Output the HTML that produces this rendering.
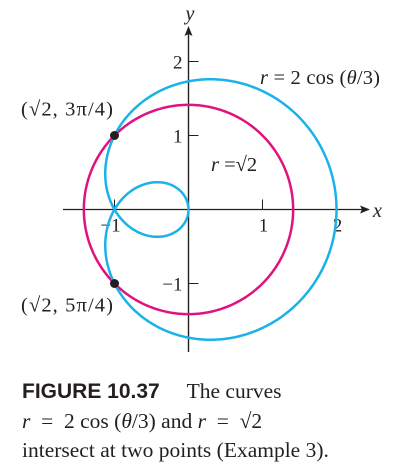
<!DOCTYPE html>
<html><head><meta charset="utf-8"><style>
body{margin:0;background:#fff;width:403px;height:471px;overflow:hidden;position:relative;font-family:"Liberation Serif",serif;}
.cap{position:absolute;left:22px;font-size:21.5px;color:#231f20;white-space:nowrap;line-height:24px;}
.cap b{font-family:"Liberation Sans",sans-serif;font-size:21px;}
</style></head><body>
<svg id="chart" width="403" height="360" style="position:absolute;left:0;top:0" font-family="Liberation Serif, serif"></svg>
<div class="cap" style="top:379px"><b>FIGURE 10.37</b>&nbsp;&nbsp;&nbsp;&nbsp;&nbsp;The curves</div>
<div class="cap" style="top:409px"><i>r</i>&nbsp; =&nbsp; 2 cos (<i>θ</i>/3) and <i>r</i>&nbsp; =&nbsp; √2</div>
<div class="cap" style="top:438px">intersect at two points (Example 3).</div>
<script>
const xTicks=[-1,1,2];
const yTicks=[-1,1,2];
const circleRadius=[Math.SQRT2];
const curveAmp=[2];
const curveDiv=[3];
const pointR=[Math.SQRT2,Math.SQRT2];
const pointTheta=[3*Math.PI/4,5*Math.PI/4];
const pointLabels=["(√2, 3π/4)","(√2, 5π/4)"];

const S=74,OX=188.5,OY=209.5;
const sx=v=>OX+v*S, sy=v=>OY-v*S;
const svg=document.getElementById('chart');
const NS='http://www.w3.org/2000/svg';
function mk(t,a){const e=document.createElementNS(NS,t);for(const k in a)e.setAttribute(k,a[k]);svg.appendChild(e);return e;}
function txt(x,y,s,size,anchor,style){const e=mk('text',{x:x,y:y,'font-size':size,'text-anchor':anchor||'start',fill:'#231f20'});if(style)e.setAttribute('font-style',style);e.textContent=s;return e;}

let e=mk('line',{x1:63,y1:OY,x2:362,y2:OY,stroke:'#231f20','stroke-width':1.2});

e=mk('path',{d:`M370 ${OY} L360 ${OY-4} L362 ${OY} L360 ${OY+4}Z`,fill:'#231f20'});

e=mk('line',{x1:OX,y1:34,x2:OX,y2:352,stroke:'#231f20','stroke-width':1.4});

e=mk('path',{d:`M${OX} 26 L${OX-4} 36 L${OX} 34 L${OX+4} 36Z`,fill:'#231f20'});

e=txt(373,217,'x',20,'start','italic');
e=txt(190,20,'y',20,'middle','italic');

xTicks.forEach(v=>{
  let t=mk('line',{x1:sx(v),y1:OY,x2:sx(v),y2:OY-10,stroke:'#231f20','stroke-width':1});
  
  let l=txt(sx(v)+(v<0?-4:1),OY+22,v<0?'−'+Math.abs(v):String(v),19,'middle');
  
});
yTicks.forEach(v=>{
  let t=mk('line',{x1:OX,y1:sy(v),x2:OX+10,y2:sy(v),stroke:'#231f20','stroke-width':1});
  
  let l=txt(OX-6,sy(v)+7,v<0?'−'+Math.abs(v):String(v),19,'end');
  
});

let d='';
for(let i=0;i<=360;i++){const t=i/360*2*Math.PI;d+=(i?'L':'M')+sx(circleRadius[0]*Math.cos(t)).toFixed(2)+' '+sy(circleRadius[0]*Math.sin(t)).toFixed(2);}
e=mk('path',{d:d,fill:'none',stroke:'#e0127f','stroke-width':2.5});


d='';
const N=1200;
for(let i=0;i<=N;i++){const t=i/N*2*curveDiv[0]*Math.PI;const r=curveAmp[0]*Math.cos(t/curveDiv[0]);d+=(i?'L':'M')+sx(r*Math.cos(t)).toFixed(2)+' '+sy(r*Math.sin(t)).toFixed(2);}
e=mk('path',{d:d,fill:'none',stroke:'#1ab2e8','stroke-width':2.5});


pointR.forEach((r,i)=>{
  const x=sx(r*Math.cos(pointTheta[i])),y=sy(r*Math.sin(pointTheta[i]));
  let c=mk('circle',{cx:x,cy:y,r:4.5,fill:'#231f20'});
  
  let l=txt(21,y+(i==0?-20:+28),pointLabels[i],20.5,'start');
  l.setAttribute('textLength','92');
  
});

e=mk('text',{x:260,y:84,'font-size':20.5,fill:'#231f20',textLength:120});
e.innerHTML='<tspan font-style="italic">r</tspan> = 2 cos (<tspan font-style="italic">θ</tspan>/3)';

e=mk('text',{x:211,y:171,'font-size':20.5,fill:'#231f20'});
e.innerHTML='<tspan font-style="italic">r</tspan> =√2';

</script>
</body></html>
